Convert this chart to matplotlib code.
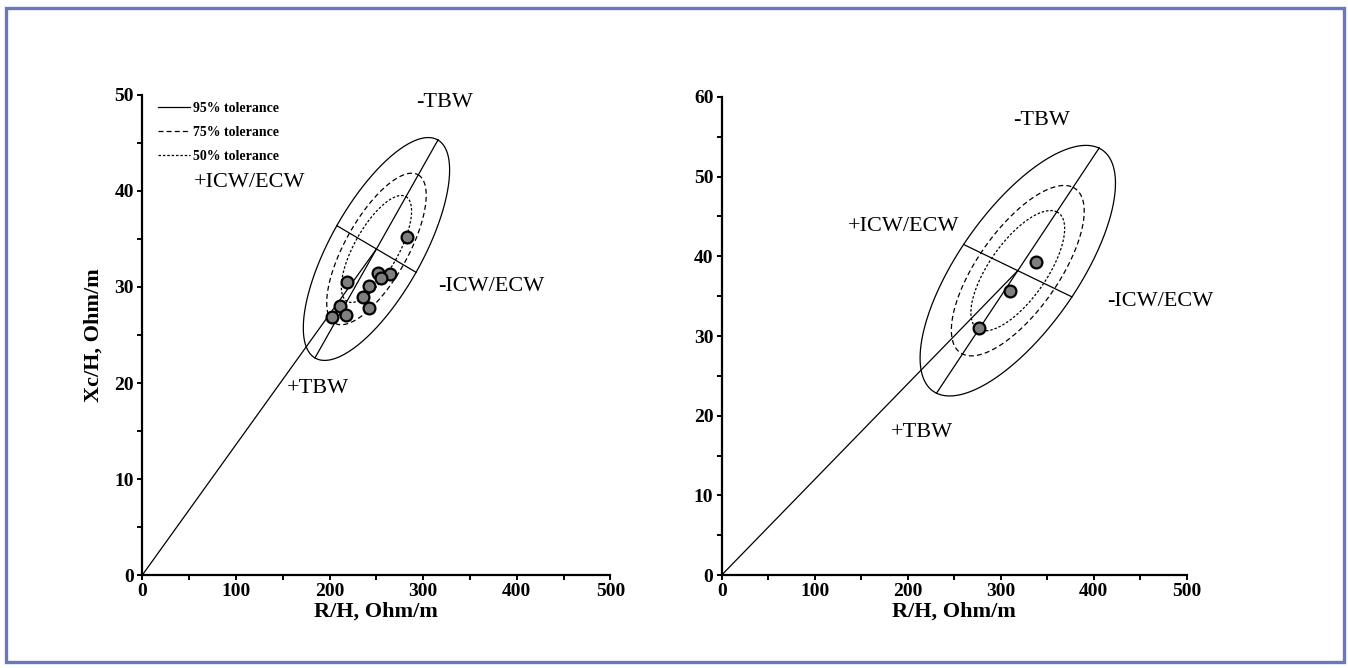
import numpy as np
import matplotlib
matplotlib.use('Agg')
import matplotlib.pyplot as plt
from matplotlib.patches import Rectangle
from matplotlib.ticker import MultipleLocator

plt.rcParams['font.family'] = ['Liberation Serif', 'DejaVu Serif']

# left panel: points and 95% ellipse (centre, semi-axis vectors in data units)
left_rh = [282.4, 218.3, 252.0, 264.5, 254.6, 242.4, 236.0, 242.4, 211.1, 217.5, 202.2]
left_xch = [35.2, 30.55, 31.5, 31.4, 30.9, 30.1, 28.95, 27.8, 28.0, 27.1, 26.9]
left_center = (250.1, 33.96)
left_major = (65.7, 11.35)
left_minor = (42.35, -2.43)

# right panel
right_rh = [338.0, 310.0, 277.0]
right_xch = [39.33, 35.69, 30.96]
right_center = (318.3, 38.2)
right_major = (87.4, 15.38)
right_minor = (58.25, -3.29)

tol_labels = ['95% tolerance', '75% tolerance', '50% tolerance']
tol_scale = [1.0, 0.68, 0.48]
tol_styles = ['-', (0, (4, 2.5)), (0, (2, 1.5))]

border_col = '#6a76bf'


def draw_panel(ax, rh, xch, c, a, b, ymax, labels_pos):
    c = np.array(c)
    a = np.array(a)
    b = np.array(b)
    t = np.linspace(0, 2 * np.pi, 400)
    handles = []
    for k, ls, lab in zip(tol_scale, tol_styles, tol_labels):
        pts = c[:, None] + k * (np.outer(a, np.cos(t)) + np.outer(b, np.sin(t)))
        h, = ax.plot(pts[0], pts[1], color='black', lw=0.9, ls=ls, label=lab)
        handles.append(h)
    ax.plot([c[0] - a[0], c[0] + a[0]], [c[1] - a[1], c[1] + a[1]], color='black', lw=0.9)
    ax.plot([c[0] - b[0], c[0] + b[0]], [c[1] - b[1], c[1] + b[1]], color='black', lw=0.9)
    ax.plot([0, c[0]], [0, c[1]], color='black', lw=0.9)
    ax.plot(rh, xch, 'o', ms=8.5, mfc='#7f7f7f', mec='black', mew=1.6, zorder=5)

    for txt, (x, y) in labels_pos.items():
        ax.text(x, y, txt, fontsize=16, ha='center', va='center')

    ax.set_xlim(0, 500)
    ax.set_ylim(0, ymax)
    ax.xaxis.set_major_locator(MultipleLocator(100))
    ax.xaxis.set_minor_locator(MultipleLocator(50))
    ax.yaxis.set_major_locator(MultipleLocator(10))
    ax.yaxis.set_minor_locator(MultipleLocator(5))
    for s in ['top', 'right']:
        ax.spines[s].set_visible(False)
    for s in ['left', 'bottom']:
        ax.spines[s].set_linewidth(1.6)
    ax.tick_params(which='both', direction='out', length=3.5, width=1.4, pad=2.5)
    for lab in ax.get_xticklabels() + ax.get_yticklabels():
        lab.set_fontweight('bold')
        lab.set_fontsize(14)
    ax.set_xlabel('R/H, Ohm/m', fontsize=16, fontweight='bold', labelpad=1)
    return handles


fig = plt.figure(figsize=(13.48, 6.68), dpi=100)
ax1 = fig.add_axes([0.1056, 0.1392, 0.3472, 0.7186])
ax2 = fig.add_axes([0.5354, 0.1392, 0.345, 0.7156])

h = draw_panel(ax1, left_rh, left_xch, left_center, left_major, left_minor, 50,
               {'-TBW': (323, 49.2), '+ICW/ECW': (115, 40.9),
                '-ICW/ECW': (373, 30.0), '+TBW': (188, 19.4)})
draw_panel(ax2, right_rh, right_xch, right_center, right_major, right_minor, 60,
           {'-TBW': (344, 57.0), '+ICW/ECW': (196, 43.8),
            '-ICW/ECW': (471, 34.3), '+TBW': (215, 17.95)})

ax1.set_ylabel('Xc/H, Ohm/m', fontsize=16, fontweight='bold', labelpad=8)
ax1.legend(handles=h, loc='upper left', bbox_to_anchor=(0.033, 0.985), frameon=False,
           prop={'weight': 'bold', 'size': 10}, handlelength=2.3, handletextpad=0.2,
           labelspacing=0.78, borderpad=0, borderaxespad=0)

fig.patches.append(Rectangle((6 / 1348, 6 / 668), 1338 / 1348, 654 / 668,
                             transform=fig.transFigure, fill=False,
                             edgecolor=border_col, lw=2.4))

fig.savefig('out.png', dpi=100)
